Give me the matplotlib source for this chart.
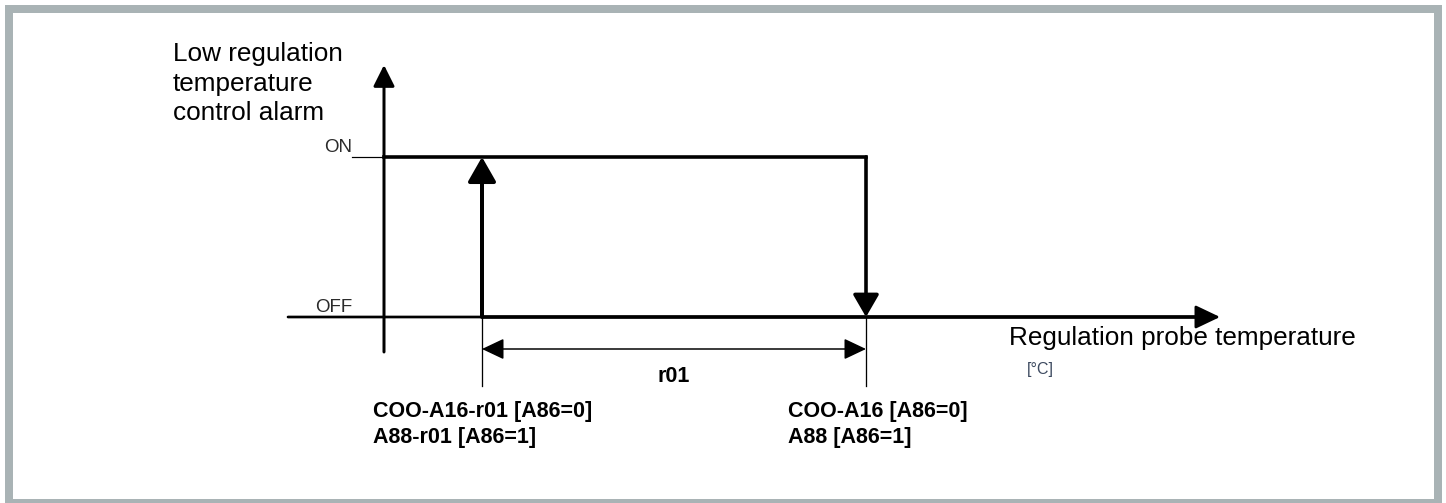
import matplotlib
matplotlib.use("Agg")
import matplotlib.pyplot as plt
from matplotlib.patches import Rectangle

plt.rcParams['font.family'] = ['Liberation Sans', 'DejaVu Sans']

# alarm levels (y) and switching temperatures (x, in units of r01)
level_labels = ["OFF", "ON"]
level_values = [0, 1]
switch_temps = [0.0, 1.0]   # alarm goes ON / goes back OFF
switch_labels = ["COO-A16-r01 [A86=0]\nA88-r01 [A86=1]",
                 "COO-A16 [A86=0]\nA88 [A86=1]"]
band_label = "r01"
y_title = ["Low regulation", "temperature", "control alarm"]
x_title = "Regulation probe temperature"
x_unit = "[°C]"

W, H, DPI = 1446, 503, 100
# pixel scale of one data unit
SX, SY = 384.0, 160.0
X0, Y0 = 482.0, 317.0


def px(p):
    # points from pixels
    return p * 72.0 / DPI


fig = plt.figure(figsize=(W / DPI, H / DPI), dpi=DPI)
ax = fig.add_axes([0, 0, 1, 1])
ax.set_xlim(-X0 / SX, (W - X0) / SX)
ax.set_ylim((Y0 - H) / SY, Y0 / SY)
ax.axis('off')

# grey frame
ax.add_patch(Rectangle((9 / W, 0), (1438 - 9) / W, 1 - 9 / H, transform=ax.transAxes,
                       fill=False, edgecolor='#a9b3b5', lw=px(8), clip_on=False))

off, on = level_values
t_on, t_off = switch_temps


def arrow(x1, y1, x2, y2, lw, hl, hw):
    ax.annotate("", xy=(x2, y2), xytext=(x1, y1),
                arrowprops=dict(arrowstyle="-|>,head_length=%g,head_width=%g" % (px(hl), px(hw / 2)),
                                lw=px(lw), color='black', shrinkA=0, shrinkB=0,
                                mutation_scale=1))


# axes
y_axis_x = (384 - X0) / SX
arrow(y_axis_x, (Y0 - 352) / SY, y_axis_x, (Y0 - 65) / SY, 3, 18, 18)
arrow((288 - X0) / SX, off, (1220 - X0) / SX, off, 2.7, 21, 20)

# level ticks and labels
tick_x = (352 - X0) / SX
ax.plot([tick_x, y_axis_x], [on, on], color='black', lw=px(1.2))
for lab, v in zip(level_labels, level_values):
    ax.text(tick_x, v + 5 / SY, lab, ha='right', va='baseline',
            fontsize=13.5, color='#2b2b2b')

# hysteresis cycle
ax.plot([t_on, (1200 - X0) / SX], [off, off], color='black', lw=px(3.6),
        solid_capstyle='butt')
ax.plot([y_axis_x, t_off], [on, on], color='black', lw=px(3.6),
        solid_capstyle='projecting')
arrow(t_on, off, t_on, on, 4, 21, 24)
arrow(t_off, on, t_off, off, 3.6, 19, 22)

# dimension r01
tick_bottom = (Y0 - 386) / SY
for t in switch_temps:
    ax.plot([t, t], [off, tick_bottom], color='black', lw=px(1.3))
dim_y = (Y0 - 349) / SY
ax.annotate("", xy=(t_off, dim_y), xytext=(t_on, dim_y),
            arrowprops=dict(arrowstyle="<|-|>,head_length=%g,head_width=%g" % (px(19), px(9)),
                            lw=px(1.5), color='black', shrinkA=0, shrinkB=0,
                            mutation_scale=1))
ax.text((t_on + t_off) / 2, (Y0 - 382) / SY, band_label, ha='center', va='baseline',
        fontsize=15.5, fontweight='bold')

# switch point labels
label_x = [(373 - X0) / SX, (788 - X0) / SX]
for lx, lab in zip(label_x, switch_labels):
    for i, line in enumerate(lab.split("\n")):
        ax.text(lx, (Y0 - 417 - 26 * i) / SY, line, ha='left', va='baseline',
                fontsize=15.5, fontweight='bold')

# axis titles
for i, line in enumerate(y_title):
    ax.text((173 - X0) / SX, (Y0 - 61 - 29.5 * i) / SY, line, ha='left',
            va='baseline', fontsize=18.8)
ax.text((1009 - X0) / SX, (Y0 - 345) / SY, x_title, ha='left', va='baseline',
        fontsize=18.8)
ax.text((1027 - X0) / SX, (Y0 - 374) / SY, x_unit, ha='left', va='baseline',
        fontsize=11.5, color='#3d4a60')

fig.savefig("out.png", dpi=DPI)
